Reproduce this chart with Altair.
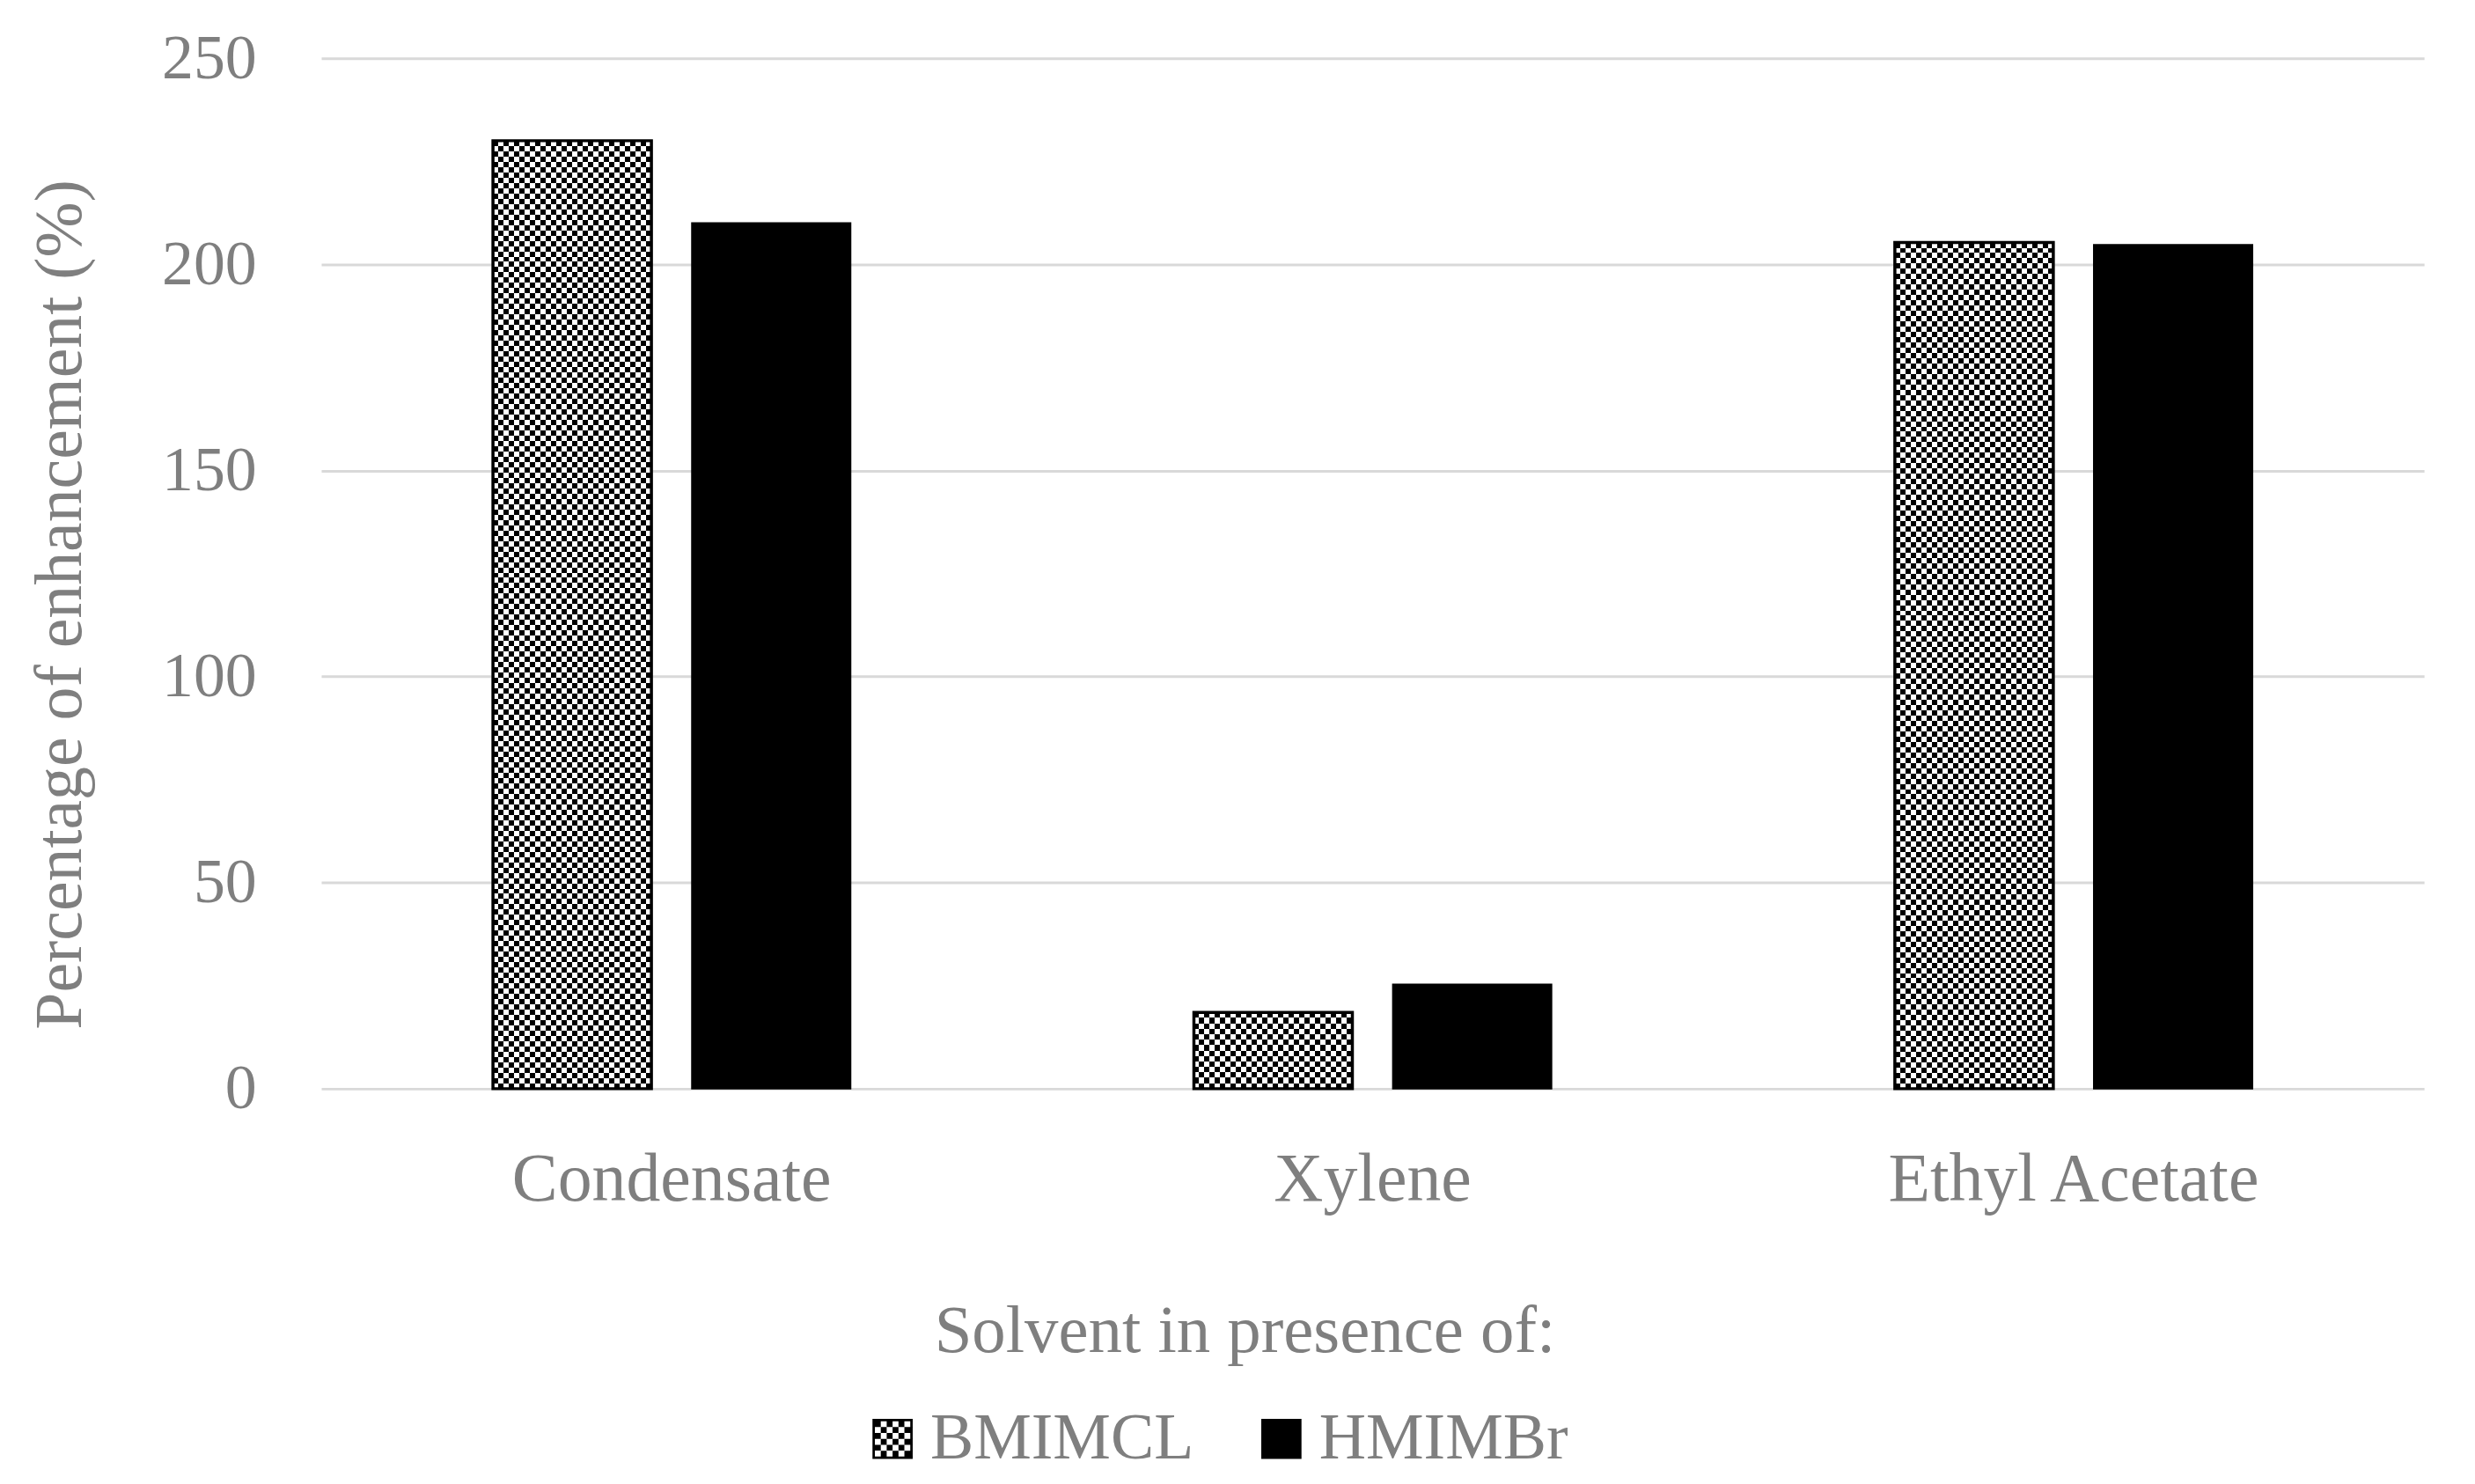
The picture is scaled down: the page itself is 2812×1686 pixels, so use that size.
import altair as alt
import pandas as pd

# ---------------- data ----------------
categories = ["Condensate", "Xylene", "Ethyl Acetate"]
series = ["BMIMCL", "HMIMBr"]
bmimcl_values = [230.0, 18.5, 205.3]
hmimbr_values = [210.0, 25.3, 204.7]
y_ticks = [0, 50, 100, 150, 200, 250]

rows = []
for c, v in zip(categories, bmimcl_values):
    rows.append({"solvent": c, "ionic": "BMIMCL", "value": v})
for c, v in zip(categories, hmimbr_values):
    rows.append({"solvent": c, "ionic": "HMIMBr", "value": v})
df = pd.DataFrame(rows)

# ---------------- style ----------------
FONT = "Liberation Serif"
GREY = "#7f7f7f"
GRID = "#d9d9d9"
W, H = 2396, 1174
YMAX = 250
PX_PER_UNIT = H / YMAX
CELL = 6  # checker cell size in px
BAR_W = 180


def stripes(n, vertical):
    stops = []
    for k in range(n):
        col = "black" if k % 2 == 0 else "white"
        stops.append(alt.GradientStop(offset=k / n, color=col))
        stops.append(alt.GradientStop(offset=(k + 1) / n, color=col))
    if vertical:  # stripes varying along x
        return alt.LinearGradient(gradient="linear", stops=stops, x1=0, x2=1, y1=0, y2=0)
    return alt.LinearGradient(gradient="linear", stops=stops, x1=0, x2=0, y1=0, y2=1)


def checker_path(n=6, f=0.12):
    parts = [
        f"M-1,-1H1V{-1 + f}H-1Z",
        f"M-1,{1 - f}H1V1H-1Z",
        f"M-1,-1H{-1 + f}V1H-1Z",
        f"M{1 - f},-1H1V1H{1 - f}Z",
    ]
    c = (2 - 2 * f) / n
    for i in range(n):
        for j in range(n):
            if (i + j) % 2 == 0:
                x0 = -1 + f + i * c
                y0 = -1 + f + j * c
                parts.append(f"M{x0:.3f},{y0:.3f}h{c:.3f}v{c:.3f}h{-c:.3f}Z")
    return "".join(parts)


x_enc = alt.X(
    "solvent:N",
    sort=categories,
    scale=alt.Scale(domain=categories, paddingInner=0.49, paddingOuter=0.245),
    axis=alt.Axis(
        title="Solvent in presence of:",
        labelAngle=0,
        labelLimit=0,
        domain=False,
        ticks=False,
        tickSize=0,
        grid=False,
        labelFont=FONT,
        labelFontSize=78,
        labelColor=GREY,
        labelBaseline="alphabetic",
        labelPadding=127,
        titleFont=FONT,
        titleFontSize=77,
        titleFontWeight="normal",
        titleColor=GREY,
        titleX=1052,
        titleY=299,
        titleAlign="center",
        titleBaseline="alphabetic",
        titleLimit=0,
    ),
)
xo_enc = alt.XOffset("ionic:N", scale=alt.Scale(domain=series, paddingInner=0.204, paddingOuter=0))
y_enc = alt.Y(
    "value:Q",
    scale=alt.Scale(domain=[0, YMAX], nice=False),
    axis=alt.Axis(
        title="Percentage of enhancement (%)",
        values=y_ticks,
        grid=True,
        gridColor=GRID,
        gridWidth=3,
        domain=False,
        ticks=False,
        tickSize=0,
        labelFont=FONT,
        labelFontSize=72,
        labelColor=GREY,
        labelPadding=74,
        labelLimit=0,
        titleFont=FONT,
        titleFontSize=76,
        titleFontWeight="normal",
        titleColor=GREY,
        titleX=-274,
        titleY=622,
        titleAlign="center",
        titleBaseline="alphabetic",
        titleAngle=270,
        titleLimit=0,
    ),
)

base = alt.Chart(df)

# checkered bars: vertical stripes, then horizontal stripes with difference blend
bm = base.transform_filter(alt.datum.ionic == "BMIMCL")
layer_a = bm.mark_bar(fill=stripes(BAR_W // CELL, True), strokeWidth=0).encode(
    x=x_enc, xOffset=xo_enc, y=y_enc
)
layers_b = []
for c, v in zip(categories, bmimcl_values):
    n_y = max(2, round(v * PX_PER_UNIT / CELL))
    layers_b.append(
        bm.transform_filter(alt.datum.solvent == c)
        .mark_bar(fill=stripes(n_y, False), strokeWidth=0, blend="difference")
        .encode(x=x_enc, xOffset=xo_enc, y=y_enc)
    )
layer_c = bm.mark_bar(fillOpacity=0, stroke="black", strokeWidth=3.5).encode(
    x=x_enc, xOffset=xo_enc, y=y_enc
)

hm = base.transform_filter(alt.datum.ionic == "HMIMBr").mark_bar(
    color="black", stroke="black", strokeWidth=2
).encode(x=x_enc, xOffset=xo_enc, y=y_enc)

legend_layer = base.transform_filter("datum.value < 0").mark_point(
    filled=True, color="black", size=2100, opacity=1
).encode(
    shape=alt.Shape(
        "ionic:N",
        scale=alt.Scale(domain=series, range=[checker_path(), "square"]),
        legend=alt.Legend(
            title=None,
            orient="none",
            legendX=614,
            legendY=1536,
            direction="horizontal",
            columns=2,
            labelFont=FONT,
            labelFontSize=74,
            labelColor=GREY,
            labelLimit=0,
            symbolSize=2100,
            symbolStrokeWidth=0,
            symbolFillColor="black",
            symbolOpacity=1,
            columnPadding=62,
            labelOffset=6,
            padding=0,
        ),
    )
)

chart = (
    alt.layer(layer_a, *layers_b, layer_c, hm, legend_layer)
    .properties(
        width=W,
        height=H,
        autosize=alt.AutoSizeParams(type="none"),
        padding={"left": 358, "top": 56, "right": 50, "bottom": 440},
    )
    .configure_view(stroke=None)
)

chart.save("out.html", embed_options={"renderer": "svg", "actions": False})
